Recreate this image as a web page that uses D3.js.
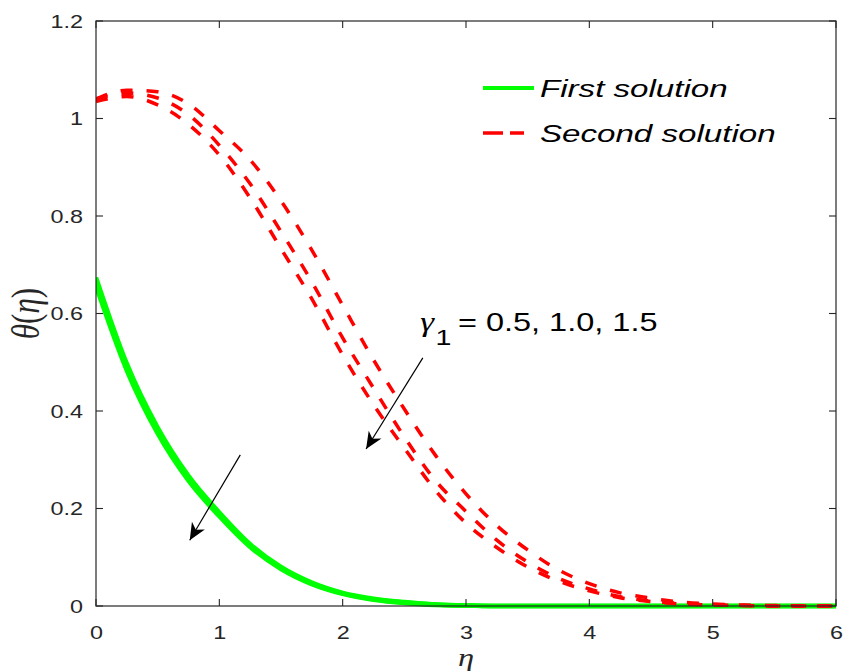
<!DOCTYPE html>
<html>
<head>
<meta charset="utf-8">
<script src="https://cdn.jsdelivr.net/npm/d3@7"></script>
<style>
  html, body { margin: 0; padding: 0; background: #fff; }
  svg { display: block; }
</style>
</head>
<body>
<svg id="chart" width="846" height="671"></svg>
<script>
// ---------- data ----------
const eta = [0, 0.25, 0.5, 0.75, 1.0, 1.25, 1.5, 1.75, 2.0, 2.25, 2.5, 2.75, 3.0,
             3.25, 3.5, 3.75, 4.0, 4.25, 4.5, 4.75, 5.0, 5.25, 5.5, 5.75, 6.0];

// First solution (gamma1 = 0.5, 1.0, 1.5)
const firstG05 = [0.674, 0.497, 0.366, 0.267, 0.192, 0.127, 0.080, 0.048, 0.027, 0.015, 0.008, 0.003, 0.001,
                  0, 0, 0, 0, 0, 0, 0, 0, 0, 0, 0, 0];
const firstG10 = [0.665, 0.490, 0.360, 0.262, 0.188, 0.124, 0.078, 0.046, 0.026, 0.014, 0.007, 0.003, 0.001,
                  0, 0, 0, 0, 0, 0, 0, 0, 0, 0, 0, 0];
const firstG15 = [0.656, 0.483, 0.354, 0.257, 0.184, 0.121, 0.076, 0.045, 0.025, 0.013, 0.006, 0.002, 0.001,
                  0, 0, 0, 0, 0, 0, 0, 0, 0, 0, 0, 0];

// Second solution (gamma1 = 0.5, 1.0, 1.5)
const secondG05 = [1.040, 1.058, 1.055, 1.030, 0.975, 0.915, 0.831, 0.730, 0.617, 0.505, 0.404, 0.310, 0.230,
                   0.165, 0.115, 0.074, 0.046, 0.027, 0.016, 0.008, 0.004, 0.002, 0.001, 0, 0];
const secondG10 = [1.040, 1.052, 1.042, 1.008, 0.945, 0.866, 0.768, 0.665, 0.550, 0.447, 0.347, 0.258, 0.194,
                   0.135, 0.090, 0.057, 0.035, 0.019, 0.010, 0.005, 0.002, 0.001, 0, 0, 0];
const secondG15 = [1.035, 1.045, 1.028, 0.988, 0.925, 0.837, 0.733, 0.630, 0.515, 0.413, 0.324, 0.238, 0.170,
                   0.120, 0.080, 0.051, 0.031, 0.017, 0.009, 0.004, 0.002, 0.001, 0, 0, 0];

const xTicks = [0, 1, 2, 3, 4, 5, 6];
const yTicks = [0, 0.2, 0.4, 0.6, 0.8, 1.0, 1.2];
const yTickLabels = ["0", "0.2", "0.4", "0.6", "0.8", "1", "1.2"];
const legendLabels = ["First solution", "Second solution"];
const annotationText = "= 0.5, 1.0, 1.5";
// annotation anchors in data units
const arrowSecond = { from: [2.65, 0.509], to: [2.19, 0.322] };
const arrowFirst  = { from: [1.17, 0.310], to: [0.76, 0.135] };
const labelAnchor = [2.63, 0.565];

// ---------- layout ----------
const margin = { left: 96, top: 21 };
const plotW = 836 - margin.left, plotH = 606 - margin.top;
const SX = 1.3; // horizontal stretch of the original raster text

const svg = d3.select("#chart");
const g = svg.append("g").attr("transform", `translate(${margin.left},${margin.top})`);

const x = d3.scaleLinear().domain([0, 6]).range([0, plotW]);
const y = d3.scaleLinear().domain([0, 1.2]).range([plotH, 0]);

const axisColor = "#262626";
const sansFont = "'Liberation Sans', Arial, sans-serif";
const serifFont = "'Liberation Serif', 'Times New Roman', serif";

const defs = svg.append("defs");
defs.append("clipPath").attr("id", "clip")
  .append("rect").attr("x", 0).attr("y", -4).attr("width", plotW).attr("height", plotH + 8);

defs.append("marker")
  .attr("id", "arrowhead")
  .attr("viewBox", "0 0 20 20")
  .attr("refX", 18).attr("refY", 10)
  .attr("markerWidth", 20).attr("markerHeight", 20)
  .attr("markerUnits", "userSpaceOnUse")
  .attr("orient", "auto")
  .append("path")
  .attr("d", "M1,2.5 L18,10 L1,17.5 L6,10 Z")
  .attr("fill", "#000");

// ---------- curves ----------
const line = d3.line()
  .x((d) => x(d[0]))
  .y((d) => y(d[1]))
  .curve(d3.curveMonotoneX);

const toPts = (vals) => eta.map((e, i) => [e, vals[i]]);

const curves = g.append("g").attr("clip-path", "url(#clip)");

[firstG05, firstG10, firstG15].forEach((vals) => {
  curves.append("path")
    .attr("d", line(toPts(vals)))
    .attr("fill", "none")
    .attr("stroke", "#00ff00")
    .attr("stroke-width", 4.5);
});

[secondG05, secondG10, secondG15].forEach((vals) => {
  curves.append("path")
    .attr("d", line(toPts(vals)))
    .attr("fill", "none")
    .attr("stroke", "#ff0000")
    .attr("stroke-width", 3.5)
    .attr("stroke-dasharray", "12,14");
});

// ---------- axes / frame ----------
g.append("rect")
  .attr("x", 0).attr("y", 0).attr("width", plotW).attr("height", plotH)
  .attr("fill", "none").attr("stroke", axisColor).attr("stroke-width", 1.2);

const tickLen = 7;
const xAxisB = d3.axisBottom(x).tickValues(xTicks).tickSize(0).tickFormat(d3.format("d"));
const gxb = g.append("g").attr("transform", `translate(0,${plotH})`).call(xAxisB);
gxb.select(".domain").remove();
gxb.selectAll("text")
  .attr("dy", 0).attr("y", 0)
  .attr("transform", `translate(0,33) scale(${SX},1)`)
  .attr("font-family", sansFont).attr("font-size", 18).attr("fill", axisColor);

const yAxisL = d3.axisLeft(y).tickValues(yTicks).tickSize(0).tickFormat((d, i) => yTickLabels[i]);
const gyl = g.append("g").call(yAxisL);
gyl.select(".domain").remove();
gyl.selectAll("text")
  .attr("x", 0).attr("dy", "0.36em")
  .attr("transform", `translate(-13,0) scale(${SX},1)`)
  .attr("font-family", sansFont).attr("font-size", 18).attr("fill", axisColor);

const ticks = g.append("g").attr("stroke", axisColor).attr("stroke-width", 1.1);
xTicks.forEach((t) => {
  ticks.append("line").attr("x1", x(t)).attr("x2", x(t)).attr("y1", plotH).attr("y2", plotH - tickLen);
  ticks.append("line").attr("x1", x(t)).attr("x2", x(t)).attr("y1", 0).attr("y2", tickLen);
});
yTicks.forEach((t) => {
  ticks.append("line").attr("x1", 0).attr("x2", tickLen).attr("y1", y(t)).attr("y2", y(t));
  ticks.append("line").attr("x1", plotW).attr("x2", plotW - tickLen).attr("y1", y(t)).attr("y2", y(t));
});

// axis labels
g.append("text")
  .attr("transform", `translate(${x(3)},${plotH + 60}) scale(${SX},1)`)
  .attr("text-anchor", "middle")
  .attr("font-family", serifFont)
  .attr("font-style", "italic")
  .attr("font-size", 25)
  .attr("fill", axisColor)
  .text("η");

g.append("text")
  .attr("transform", `translate(-57,${y(0.6)}) rotate(-90) scale(1,${SX})`)
  .attr("text-anchor", "middle")
  .attr("font-family", serifFont)
  .attr("font-size", 31)
  .attr("fill", axisColor)
  .html("<tspan font-style='italic'>θ</tspan>(<tspan font-style='italic'>η</tspan>)");

// ---------- legend ----------
const legend = g.append("g").attr("transform", `translate(${483 - margin.left},${88 - margin.top})`);
const legendStyles = [
  { color: "#00ff00", dash: null, width: 4 },
  { color: "#ff0000", dash: "20,7", width: 3.5 }
];
legendLabels.forEach((lab, i) => {
  const row = legend.append("g").attr("transform", `translate(0,${i * 45})`);
  row.append("line")
    .attr("x1", 0).attr("x2", i === 0 ? 51 : 41).attr("y1", 0).attr("y2", 0)
    .attr("stroke", legendStyles[i].color)
    .attr("stroke-width", legendStyles[i].width)
    .attr("stroke-dasharray", legendStyles[i].dash);
  row.append("text")
    .attr("transform", `translate(57,9) scale(1.38,1)`)
    .attr("font-family", sansFont)
    .attr("font-style", "italic")
    .attr("font-size", 24)
    .attr("fill", "#000")
    .text(lab);
});

// ---------- annotations ----------
const ann = g.append("g");
const lab = ann.append("text")
  .attr("transform", `translate(${x(labelAnchor[0])},${y(labelAnchor[1])}) scale(${SX},1)`)
  .attr("font-family", sansFont)
  .attr("font-size", 25)
  .attr("fill", "#000");
lab.append("tspan")
  .attr("font-family", serifFont)
  .attr("font-style", "italic")
  .attr("font-size", 27)
  .text("γ");
lab.append("tspan")
  .attr("dy", 14).attr("font-size", 22).attr("dx", 1)
  .text("1");
lab.append("tspan")
  .attr("dy", -14).attr("dx", 5)
  .text(annotationText);

[arrowSecond, arrowFirst].forEach((a) => {
  ann.append("line")
    .attr("x1", x(a.from[0])).attr("y1", y(a.from[1]))
    .attr("x2", x(a.to[0])).attr("y2", y(a.to[1]))
    .attr("stroke", "#000")
    .attr("stroke-width", 1.2)
    .attr("marker-end", "url(#arrowhead)");
});
</script>
</body>
</html>
